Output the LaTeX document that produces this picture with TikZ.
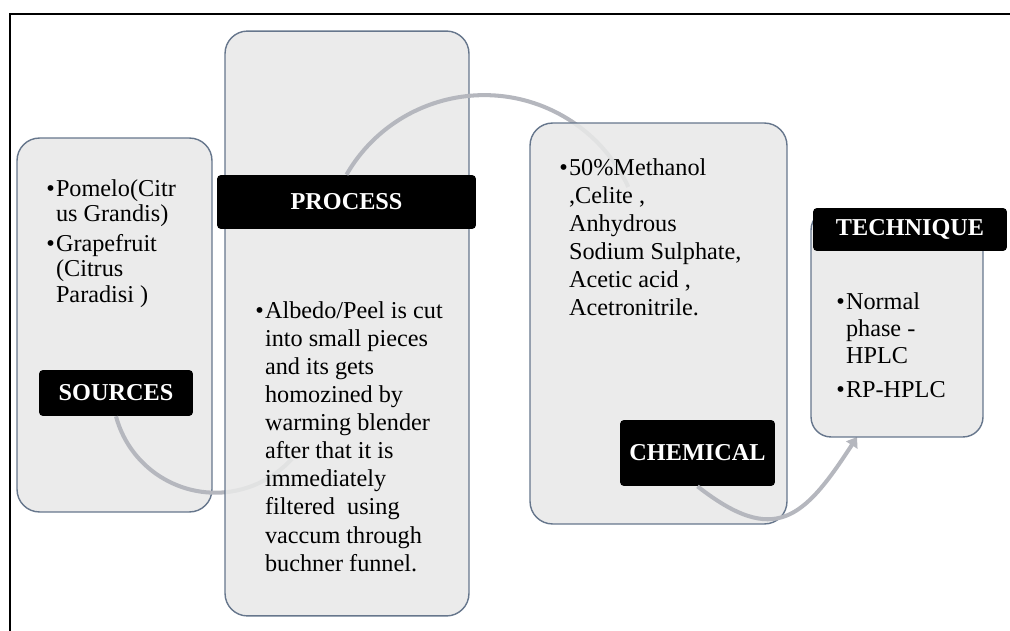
\documentclass[tikz,border=0pt]{standalone}
\usepackage{fontspec}
\setmainfont{Liberation Serif}
\usetikzlibrary{arrows.meta}

\definecolor{boxfill}{HTML}{E8E8E8}
\definecolor{boxline}{HTML}{66768C}
\definecolor{arcgray}{HTML}{B5B7BE}

\tikzset{
  stagebox/.style={draw=boxline, line width=0.8pt, fill=boxfill, fill opacity=0.88,
    rounded corners=0.45cm, inner sep=0pt},
  tagbox/.style={fill=black, rounded corners=0.08cm, text=white, inner sep=0pt,
    font=\fontsize{13.8}{15}\selectfont\bfseries},
  itemtext/.style={anchor=north west, align=left, inner sep=0pt,
    font=\fontsize{13.8}{16}\selectfont},
  flow/.style={draw=arcgray, line width=2.3pt},
}
\newcommand{\bul}{\makebox[5.5pt][l]{\textbullet}}
\newcommand{\hang}{\hspace*{5.5pt}}

\begin{document}
\begin{tikzpicture}[x=0.02cm, y=0.02cm]
  \useasboundingbox (0,0) rectangle (1010,-631);

  % ---- 外枠（上と左のみ） ----
  \draw[line width=1.5pt] (10,-640) -- (10,-14) -- (1020,-14);

  % ---- SOURCES ----
  \node[stagebox, minimum width=3.9cm, minimum height=7.48cm] (srcbox) at (114.5,-325) {};
  \node[itemtext, font=\fontsize{13.8}{14.5}\selectfont] (srctext) at (46,-179)
    {\bul Pomelo(Citr\\ \hang us Grandis)\\[2.5pt]
     \bul Grapefruit\\ \hang (Citrus\\ \hang Paradisi )};
  \node[tagbox, minimum width=3.08cm, minimum height=0.92cm] (srctag) at (116,-393) {SOURCES};
  \draw[flow] (srctag.south) arc[start angle=195, end angle=318, radius=103];

  % ---- PROCESS ----
  \node[stagebox, minimum width=4.88cm, minimum height=11.7cm] (procbox) at (347,-323.5) {};
  \node[tagbox, minimum width=5.18cm, minimum height=1.08cm] (proctag) at (346.5,-202) {PROCESS};
  \node[itemtext] (proctext) at (255,-301)
    {\bul Albedo/Peel is cut\\ \hang into small pieces\\ \hang and its gets\\
     \hang homozined by\\ \hang warming blender\\ \hang after that it is\\
     \hang immediately\\ \hang filtered\ \ using\\ \hang vaccum through\\
     \hang buchner funnel.};
  \draw[flow] (proctag.north) arc[start angle=150, end angle=25, radius=159];

  % ---- CHEMICAL ----
  \node[stagebox, minimum width=5.14cm, minimum height=8.02cm] (chembox) at (658.5,-323.5) {};
  \node[itemtext] (chemtext) at (559,-158)
    {\bul 50\%Methanol\\ \hang ,Celite ,\\ \hang Anhydrous\\
     \hang Sodium Sulphate,\\ \hang Acetic acid ,\\ \hang Acetronitrile.};
  \node[tagbox, minimum width=3.1cm, minimum height=1.32cm] (chemtag) at (697.5,-453) {CHEMICAL};
  \coordinate (techin) at (857,-437);
  \draw[flow, -{Triangle[length=5.5pt, width=7.5pt]}]
    (chemtag.south) to[out=-38, in=237, looseness=1.5] (techin);

  % ---- TECHNIQUE ----
  \node[stagebox, rounded corners=0.4cm, minimum width=3.44cm, minimum height=4.54cm] (techbox) at (897,-323.5) {};
  \node[tagbox, minimum width=3.88cm, minimum height=0.86cm] (techtag) at (910,-229.5) {TECHNIQUE};
  \node[itemtext, font=\fontsize{13.8}{15.5}\selectfont] (techtext) at (836,-292)
    {\bul Normal\\ \hang phase -\\ \hang HPLC\\[3.5pt] \bul RP-HPLC};
\end{tikzpicture}
\end{document}
